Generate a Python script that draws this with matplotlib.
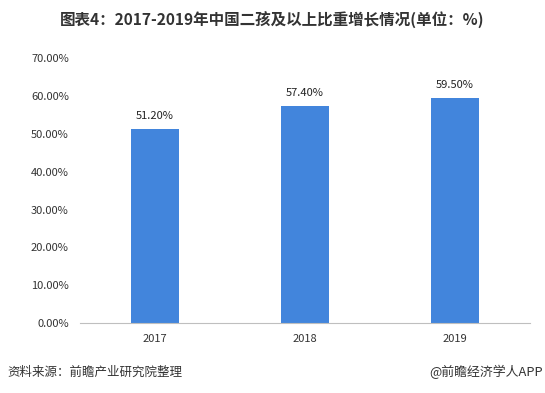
import matplotlib.pyplot as plt

plt.rcParams['font.family'] = ['Noto Sans CJK SC', 'DejaVu Sans']

years = ['2017', '2018', '2019']
share = [51.20, 57.40, 59.50]
yticks = [0, 10, 20, 30, 40, 50, 60, 70]

fig = plt.figure(figsize=(5.45, 3.93), dpi=100)
ax = fig.add_axes([0.1468, 0.178, 0.8257, 0.674])

x = range(len(years))
ax.bar(x, share, width=0.32, color='#4285dc')
for xi, v in zip(x, share):
    ax.annotate(f"{v:.2f}%", (xi, v), textcoords="offset points", xytext=(0, 6),
                ha='center', va='bottom', fontsize=8, color='#222222')

ax.set_xlim(-0.5, 2.5)
ax.set_ylim(0, 70)
ax.set_xticks(list(x))
ax.set_xticklabels(years, fontsize=8, color='#333333')
ax.set_yticks(yticks)
ax.set_yticklabels([f"{t:.2f}%" for t in yticks], fontsize=8, color='#333333')
ax.tick_params(length=0, pad=8)
for s in ['top', 'right', 'left']:
    ax.spines[s].set_visible(False)
ax.spines['bottom'].set_color('#bfbfbf')

fig.text(0.5, 0.95, '图表4：2017-2019年中国二孩及以上比重增长情况(单位：%)',
         ha='center', va='center', fontsize=11.2, fontweight='bold', color='#333333')
fig.text(0.013, 0.053, '资料来源：前瞻产业研究院整理', ha='left', va='center',
         fontsize=9, color='#333333')
fig.text(0.996, 0.053, '@前瞻经济学人APP', ha='right', va='center',
         fontsize=9.3, color='#333333')

fig.savefig('out.png', dpi=100)
